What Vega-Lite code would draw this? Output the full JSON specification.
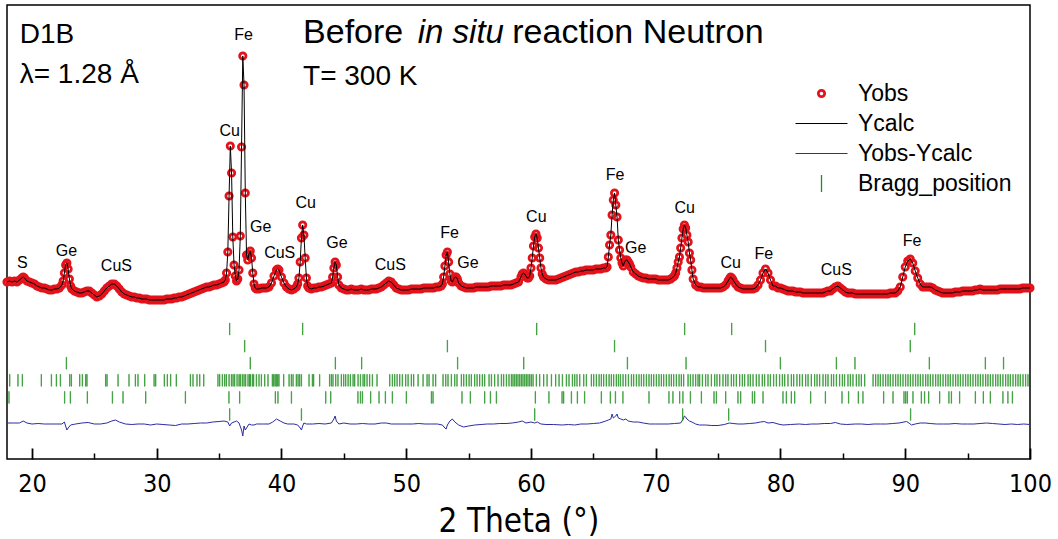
{
"$schema":"https://vega.github.io/schema/vega-lite/v6.json",
"width":1023,"height":454,"autosize":"none",
"padding":{"left":7,"top":5,"right":28,"bottom":80},
"config":{"view":{"stroke":"#000","strokeWidth":1.5},"font":"Liberation Sans"},
"datasets":{
"profile":[
{"t":18,"I":177},{"t":18.2,"I":178},{"t":18.4,"I":177},{"t":18.6,"I":178},{"t":18.8,"I":177},{"t":19,"I":179},{"t":19.2,"I":181},{"t":19.3,"I":182},{"t":19.4,"I":181},{"t":19.6,"I":178},{"t":19.8,"I":177},{"t":20,"I":176},{"t":20.2,"I":175},{"t":20.4,"I":173},{"t":20.6,"I":172},{"t":20.8,"I":171},{"t":21,"I":171},{"t":21.2,"I":170},{"t":21.4,"I":169},{"t":21.6,"I":169},{"t":21.8,"I":170},{"t":22,"I":170},{"t":22.2,"I":171},{"t":22.4,"I":174},{"t":22.5,"I":178},{"t":22.6,"I":186},{"t":22.7,"I":194},{"t":22.8,"I":196},{"t":22.9,"I":190},{"t":23,"I":180},{"t":23.1,"I":173},{"t":23.2,"I":170},{"t":23.4,"I":168},{"t":23.6,"I":167},{"t":23.8,"I":166},{"t":24,"I":166},{"t":24.2,"I":167},{"t":24.4,"I":168},{"t":24.6,"I":168},{"t":24.8,"I":166},{"t":25,"I":164},{"t":25.2,"I":162},{"t":25.4,"I":163},{"t":25.6,"I":165},{"t":25.8,"I":168},{"t":26,"I":171},{"t":26.2,"I":173},{"t":26.4,"I":175},{"t":26.6,"I":175},{"t":26.8,"I":173},{"t":27,"I":170},{"t":27.2,"I":167},{"t":27.4,"I":165},{"t":27.6,"I":164},{"t":27.8,"I":163},{"t":28,"I":162},{"t":28.2,"I":162},{"t":28.4,"I":161},{"t":28.6,"I":161},{"t":28.8,"I":160},{"t":29,"I":160},{"t":29.2,"I":160},{"t":29.4,"I":159},{"t":29.6,"I":159},{"t":29.8,"I":159},{"t":30,"I":159},{"t":30.2,"I":159},{"t":30.4,"I":159},{"t":30.6,"I":159},{"t":30.8,"I":160},{"t":31,"I":160},{"t":31.2,"I":160},{"t":31.4,"I":161},{"t":31.6,"I":161},{"t":31.8,"I":162},{"t":32,"I":162},{"t":32.2,"I":163},{"t":32.4,"I":164},{"t":32.6,"I":165},{"t":32.8,"I":166},{"t":33,"I":167},{"t":33.2,"I":168},{"t":33.4,"I":169},{"t":33.6,"I":170},{"t":33.8,"I":171},{"t":34,"I":172},{"t":34.2,"I":172},{"t":34.4,"I":173},{"t":34.6,"I":174},{"t":34.8,"I":174},{"t":35,"I":175},{"t":35.2,"I":176},{"t":35.4,"I":177},{"t":35.5,"I":179},{"t":35.6,"I":186},{"t":35.7,"I":207},{"t":35.8,"I":263},{"t":35.9,"I":313},{"t":36,"I":286},{"t":36.1,"I":222},{"t":36.2,"I":194},{"t":36.3,"I":183},{"t":36.4,"I":178},{"t":36.5,"I":180},{"t":36.6,"I":189},{"t":36.7,"I":223},{"t":36.8,"I":312},{"t":36.9,"I":403},{"t":37,"I":374},{"t":37.1,"I":266},{"t":37.2,"I":204},{"t":37.3,"I":199},{"t":37.4,"I":205},{"t":37.5,"I":208},{"t":37.6,"I":201},{"t":37.7,"I":186},{"t":37.8,"I":175},{"t":37.9,"I":171},{"t":38,"I":170},{"t":38.2,"I":170},{"t":38.4,"I":171},{"t":38.6,"I":171},{"t":38.8,"I":171},{"t":39,"I":172},{"t":39.2,"I":176},{"t":39.4,"I":183},{"t":39.6,"I":189},{"t":39.7,"I":190},{"t":39.8,"I":189},{"t":40,"I":182},{"t":40.2,"I":176},{"t":40.4,"I":172},{"t":40.6,"I":170},{"t":40.8,"I":169},{"t":41,"I":170},{"t":41.2,"I":172},{"t":41.3,"I":175},{"t":41.4,"I":181},{"t":41.5,"I":197},{"t":41.6,"I":221},{"t":41.7,"I":234},{"t":41.8,"I":224},{"t":41.9,"I":201},{"t":42,"I":181},{"t":42.1,"I":173},{"t":42.2,"I":171},{"t":42.4,"I":170},{"t":42.6,"I":171},{"t":42.8,"I":171},{"t":43,"I":172},{"t":43.2,"I":172},{"t":43.4,"I":173},{"t":43.6,"I":174},{"t":43.8,"I":175},{"t":44,"I":176},{"t":44.1,"I":182},{"t":44.2,"I":191},{"t":44.3,"I":197},{"t":44.4,"I":194},{"t":44.5,"I":182},{"t":44.6,"I":174},{"t":44.8,"I":171},{"t":45,"I":170},{"t":45.2,"I":169},{"t":45.4,"I":169},{"t":45.6,"I":170},{"t":45.8,"I":169},{"t":46,"I":169},{"t":46.2,"I":169},{"t":46.4,"I":170},{"t":46.6,"I":169},{"t":46.8,"I":169},{"t":47,"I":169},{"t":47.2,"I":170},{"t":47.4,"I":170},{"t":47.6,"I":170},{"t":47.8,"I":171},{"t":48,"I":172},{"t":48.2,"I":174},{"t":48.4,"I":176},{"t":48.6,"I":178},{"t":48.8,"I":177},{"t":49,"I":174},{"t":49.2,"I":171},{"t":49.4,"I":170},{"t":49.6,"I":169},{"t":49.8,"I":169},{"t":50,"I":169},{"t":50.2,"I":169},{"t":50.4,"I":170},{"t":50.6,"I":170},{"t":50.8,"I":170},{"t":51,"I":170},{"t":51.2,"I":170},{"t":51.4,"I":171},{"t":51.6,"I":171},{"t":51.8,"I":171},{"t":52,"I":171},{"t":52.2,"I":171},{"t":52.4,"I":172},{"t":52.6,"I":172},{"t":52.8,"I":173},{"t":52.9,"I":175},{"t":53,"I":182},{"t":53.1,"I":193},{"t":53.2,"I":204},{"t":53.3,"I":207},{"t":53.4,"I":197},{"t":53.5,"I":185},{"t":53.6,"I":178},{"t":53.7,"I":177},{"t":53.8,"I":180},{"t":53.9,"I":182},{"t":54,"I":182},{"t":54.1,"I":180},{"t":54.2,"I":176},{"t":54.4,"I":173},{"t":54.6,"I":172},{"t":54.8,"I":171},{"t":55,"I":171},{"t":55.2,"I":171},{"t":55.4,"I":171},{"t":55.6,"I":172},{"t":55.8,"I":172},{"t":56,"I":172},{"t":56.2,"I":172},{"t":56.4,"I":172},{"t":56.6,"I":172},{"t":56.8,"I":173},{"t":57,"I":173},{"t":57.2,"I":173},{"t":57.4,"I":173},{"t":57.6,"I":173},{"t":57.8,"I":174},{"t":58,"I":174},{"t":58.2,"I":174},{"t":58.4,"I":174},{"t":58.6,"I":175},{"t":58.8,"I":176},{"t":59,"I":177},{"t":59.2,"I":182},{"t":59.3,"I":185},{"t":59.4,"I":186},{"t":59.5,"I":185},{"t":59.6,"I":183},{"t":59.7,"I":181},{"t":59.8,"I":181},{"t":59.9,"I":183},{"t":60,"I":191},{"t":60.1,"I":201},{"t":60.2,"I":213},{"t":60.3,"I":222},{"t":60.4,"I":225},{"t":60.5,"I":221},{"t":60.6,"I":211},{"t":60.7,"I":201},{"t":60.8,"I":191},{"t":60.9,"I":185},{"t":61,"I":182},{"t":61.2,"I":180},{"t":61.4,"I":179},{"t":61.6,"I":179},{"t":61.8,"I":179},{"t":62,"I":179},{"t":62.2,"I":180},{"t":62.4,"I":181},{"t":62.6,"I":182},{"t":62.8,"I":183},{"t":63,"I":184},{"t":63.2,"I":185},{"t":63.4,"I":186},{"t":63.6,"I":187},{"t":63.8,"I":187},{"t":64,"I":188},{"t":64.2,"I":188},{"t":64.4,"I":189},{"t":64.6,"I":189},{"t":64.8,"I":189},{"t":65,"I":189},{"t":65.2,"I":190},{"t":65.4,"I":190},{"t":65.6,"I":190},{"t":65.8,"I":191},{"t":66,"I":191},{"t":66.1,"I":192},{"t":66.2,"I":202},{"t":66.3,"I":214},{"t":66.4,"I":224},{"t":66.5,"I":244},{"t":66.6,"I":259},{"t":66.7,"I":266},{"t":66.8,"I":254},{"t":66.9,"I":242},{"t":67,"I":219},{"t":67.1,"I":209},{"t":67.2,"I":201},{"t":67.3,"I":196},{"t":67.4,"I":193},{"t":67.5,"I":197},{"t":67.6,"I":199},{"t":67.7,"I":199},{"t":67.8,"I":197},{"t":67.9,"I":195},{"t":68,"I":192},{"t":68.2,"I":187},{"t":68.4,"I":185},{"t":68.6,"I":183},{"t":68.8,"I":182},{"t":69,"I":181},{"t":69.2,"I":181},{"t":69.4,"I":180},{"t":69.6,"I":180},{"t":69.8,"I":180},{"t":70,"I":180},{"t":70.2,"I":179},{"t":70.4,"I":179},{"t":70.6,"I":179},{"t":70.8,"I":179},{"t":71,"I":179},{"t":71.2,"I":180},{"t":71.4,"I":182},{"t":71.5,"I":183},{"t":71.6,"I":186},{"t":71.7,"I":191},{"t":71.8,"I":197},{"t":71.9,"I":202},{"t":72,"I":211},{"t":72.1,"I":221},{"t":72.2,"I":230},{"t":72.3,"I":234},{"t":72.4,"I":231},{"t":72.5,"I":224},{"t":72.6,"I":217},{"t":72.7,"I":206},{"t":72.8,"I":199},{"t":72.9,"I":189},{"t":73,"I":180},{"t":73.2,"I":174},{"t":73.4,"I":172},{"t":73.6,"I":172},{"t":73.8,"I":171},{"t":74,"I":171},{"t":74.2,"I":171},{"t":74.4,"I":171},{"t":74.6,"I":171},{"t":74.8,"I":171},{"t":75,"I":171},{"t":75.2,"I":171},{"t":75.4,"I":172},{"t":75.6,"I":174},{"t":75.8,"I":178},{"t":75.9,"I":180},{"t":76,"I":182},{"t":76.1,"I":181},{"t":76.2,"I":179},{"t":76.4,"I":175},{"t":76.6,"I":172},{"t":76.8,"I":171},{"t":77,"I":170},{"t":77.2,"I":170},{"t":77.4,"I":170},{"t":77.6,"I":170},{"t":77.8,"I":170},{"t":78,"I":171},{"t":78.2,"I":174},{"t":78.4,"I":179},{"t":78.6,"I":186},{"t":78.8,"I":190},{"t":79,"I":186},{"t":79.2,"I":179},{"t":79.4,"I":173},{"t":79.6,"I":173},{"t":79.8,"I":171},{"t":80,"I":171},{"t":80.2,"I":170},{"t":80.4,"I":169},{"t":80.6,"I":168},{"t":80.8,"I":168},{"t":81,"I":168},{"t":81.2,"I":167},{"t":81.4,"I":167},{"t":81.6,"I":167},{"t":81.8,"I":166},{"t":82,"I":166},{"t":82.2,"I":166},{"t":82.4,"I":166},{"t":82.6,"I":166},{"t":82.8,"I":166},{"t":83,"I":166},{"t":83.2,"I":166},{"t":83.4,"I":166},{"t":83.6,"I":167},{"t":83.8,"I":168},{"t":84,"I":168},{"t":84.2,"I":170},{"t":84.4,"I":172},{"t":84.6,"I":173},{"t":84.8,"I":171},{"t":85,"I":169},{"t":85.2,"I":167},{"t":85.4,"I":166},{"t":85.6,"I":166},{"t":85.8,"I":166},{"t":86,"I":165},{"t":86.2,"I":165},{"t":86.4,"I":165},{"t":86.6,"I":165},{"t":86.8,"I":165},{"t":87,"I":165},{"t":87.2,"I":165},{"t":87.4,"I":165},{"t":87.6,"I":165},{"t":87.8,"I":165},{"t":88,"I":165},{"t":88.2,"I":165},{"t":88.4,"I":165},{"t":88.6,"I":165},{"t":88.8,"I":166},{"t":89,"I":166},{"t":89.2,"I":166},{"t":89.4,"I":168},{"t":89.6,"I":172},{"t":89.8,"I":182},{"t":90,"I":192},{"t":90.2,"I":198},{"t":90.4,"I":200},{"t":90.6,"I":196},{"t":90.8,"I":188},{"t":91,"I":181},{"t":91.2,"I":175},{"t":91.4,"I":172},{"t":91.6,"I":172},{"t":91.8,"I":172},{"t":92,"I":172},{"t":92.2,"I":171},{"t":92.4,"I":169},{"t":92.6,"I":168},{"t":92.8,"I":167},{"t":93,"I":166},{"t":93.2,"I":166},{"t":93.4,"I":166},{"t":93.6,"I":166},{"t":93.8,"I":166},{"t":94,"I":167},{"t":94.2,"I":167},{"t":94.4,"I":167},{"t":94.6,"I":168},{"t":94.8,"I":168},{"t":95,"I":168},{"t":95.2,"I":168},{"t":95.4,"I":168},{"t":95.6,"I":169},{"t":95.8,"I":169},{"t":96,"I":170},{"t":96.2,"I":169},{"t":96.4,"I":169},{"t":96.6,"I":169},{"t":96.8,"I":169},{"t":97,"I":169},{"t":97.2,"I":169},{"t":97.4,"I":169},{"t":97.6,"I":170},{"t":97.8,"I":170},{"t":98,"I":170},{"t":98.2,"I":170},{"t":98.4,"I":170},{"t":98.6,"I":170},{"t":98.8,"I":170},{"t":99,"I":170},{"t":99.2,"I":170},{"t":99.4,"I":171},{"t":99.6,"I":171},{"t":99.8,"I":171},{"t":100,"I":171}
],
"diff":[
{"t":18,"d":36},{"t":18.5,"d":36},{"t":19,"d":36},{"t":19.3,"d":38},{"t":19.6,"d":36},{"t":20,"d":35},{"t":20.5,"d":35.5},{"t":21,"d":35},{"t":21.5,"d":35},{"t":22,"d":35},{"t":22.4,"d":35},{"t":22.6,"d":37},{"t":22.7,"d":33},{"t":22.8,"d":29},{"t":22.9,"d":31},{"t":23.1,"d":34},{"t":23.5,"d":35},{"t":24,"d":36},{"t":24.5,"d":36.5},{"t":25,"d":35},{"t":25.5,"d":35},{"t":26,"d":36},{"t":26.4,"d":38},{"t":26.7,"d":39},{"t":27,"d":37},{"t":27.5,"d":35},{"t":28,"d":34.5},{"t":28.5,"d":35},{"t":29,"d":35},{"t":29.5,"d":34},{"t":30,"d":35},{"t":30.5,"d":34.5},{"t":31,"d":34},{"t":31.5,"d":33.5},{"t":32,"d":35},{"t":32.5,"d":35},{"t":33,"d":35.5},{"t":33.5,"d":36},{"t":34,"d":36},{"t":34.5,"d":37},{"t":35,"d":37.5},{"t":35.4,"d":38},{"t":35.7,"d":37},{"t":35.85,"d":33},{"t":36,"d":36},{"t":36.2,"d":37},{"t":36.4,"d":38},{"t":36.6,"d":36},{"t":36.8,"d":29},{"t":36.9,"d":23},{"t":37,"d":33},{"t":37.1,"d":29},{"t":37.2,"d":31},{"t":37.4,"d":35},{"t":37.6,"d":34},{"t":37.8,"d":34},{"t":38,"d":35},{"t":38.5,"d":35},{"t":39,"d":35},{"t":39.3,"d":37},{"t":39.6,"d":40},{"t":39.9,"d":38},{"t":40.2,"d":36},{"t":40.5,"d":35},{"t":41,"d":35},{"t":41.3,"d":34},{"t":41.5,"d":31},{"t":41.6,"d":29},{"t":41.7,"d":33},{"t":41.8,"d":36},{"t":42,"d":35},{"t":42.5,"d":35},{"t":43,"d":35.5},{"t":43.5,"d":35},{"t":44,"d":36},{"t":44.2,"d":40},{"t":44.3,"d":43},{"t":44.4,"d":38},{"t":44.6,"d":35},{"t":45,"d":36},{"t":45.5,"d":35},{"t":46,"d":35},{"t":46.5,"d":35.5},{"t":47,"d":35},{"t":47.5,"d":35},{"t":48,"d":36},{"t":48.4,"d":36},{"t":48.8,"d":35},{"t":49.2,"d":35},{"t":49.6,"d":35},{"t":50,"d":35},{"t":50.5,"d":35},{"t":51,"d":35.5},{"t":51.5,"d":35},{"t":52,"d":35},{"t":52.5,"d":35},{"t":52.9,"d":34},{"t":53.1,"d":31},{"t":53.2,"d":30},{"t":53.3,"d":34},{"t":53.5,"d":38},{"t":53.7,"d":40},{"t":53.9,"d":37},{"t":54.2,"d":34},{"t":54.6,"d":32},{"t":55,"d":33},{"t":55.5,"d":34},{"t":56,"d":34.5},{"t":56.5,"d":35},{"t":57,"d":35},{"t":57.5,"d":35.5},{"t":58,"d":35.5},{"t":58.5,"d":36},{"t":59,"d":37},{"t":59.3,"d":38},{"t":59.6,"d":36},{"t":60,"d":37},{"t":60.3,"d":36},{"t":60.5,"d":37},{"t":60.8,"d":35},{"t":61.2,"d":34.5},{"t":61.8,"d":34.5},{"t":62.5,"d":34},{"t":63,"d":34.5},{"t":63.5,"d":34},{"t":64,"d":35},{"t":64.5,"d":35},{"t":65,"d":35.5},{"t":65.5,"d":36},{"t":66,"d":38},{"t":66.2,"d":39},{"t":66.4,"d":40},{"t":66.5,"d":45},{"t":66.6,"d":41},{"t":66.7,"d":42},{"t":66.8,"d":43},{"t":66.9,"d":45},{"t":67,"d":41},{"t":67.2,"d":40},{"t":67.4,"d":39},{"t":67.6,"d":40},{"t":67.8,"d":38},{"t":68.2,"d":37},{"t":68.6,"d":37},{"t":69,"d":36},{"t":69.5,"d":35},{"t":70,"d":35},{"t":70.5,"d":35},{"t":71,"d":35},{"t":71.5,"d":35.5},{"t":72,"d":36},{"t":72.2,"d":40},{"t":72.3,"d":43},{"t":72.4,"d":42},{"t":72.5,"d":40},{"t":72.7,"d":38},{"t":72.9,"d":37},{"t":73.2,"d":35},{"t":73.5,"d":34},{"t":74,"d":34},{"t":74.5,"d":33.5},{"t":75,"d":33.5},{"t":75.5,"d":34.5},{"t":75.9,"d":36},{"t":76.2,"d":35.5},{"t":76.6,"d":35},{"t":77,"d":35},{"t":77.5,"d":35.5},{"t":78,"d":36},{"t":78.4,"d":37},{"t":78.7,"d":37.5},{"t":79,"d":36},{"t":79.4,"d":36.5},{"t":79.8,"d":35},{"t":80.2,"d":34},{"t":80.8,"d":34.5},{"t":81.5,"d":35},{"t":82,"d":34.5},{"t":82.5,"d":35},{"t":83,"d":35},{"t":83.5,"d":35.5},{"t":84,"d":35.5},{"t":84.4,"d":36.5},{"t":84.8,"d":35},{"t":85.3,"d":34.5},{"t":86,"d":35},{"t":86.5,"d":35},{"t":87,"d":34.5},{"t":87.5,"d":35},{"t":88,"d":35},{"t":88.5,"d":35},{"t":89,"d":35.5},{"t":89.5,"d":36},{"t":89.9,"d":37},{"t":90.1,"d":37.5},{"t":90.3,"d":36},{"t":90.5,"d":34},{"t":90.8,"d":35},{"t":91.2,"d":36},{"t":91.6,"d":36},{"t":92,"d":35.5},{"t":92.5,"d":35},{"t":93,"d":35},{"t":93.5,"d":35},{"t":94,"d":35.5},{"t":94.5,"d":35},{"t":95,"d":35},{"t":95.5,"d":35},{"t":96,"d":35.5},{"t":96.5,"d":36},{"t":97,"d":35.5},{"t":97.5,"d":35},{"t":98,"d":34.5},{"t":98.5,"d":35},{"t":99,"d":34.5},{"t":99.5,"d":35},{"t":100,"d":34.5}
],
"bragg":[
{"t":35.85,"p":"Cu"},{"t":41.7,"p":"Cu"},{"t":60.46,"p":"Cu"},{"t":72.32,"p":"Cu"},{"t":76.09,"p":"Cu"},{"t":90.76,"p":"Cu"},
{"t":37.05,"p":"Fe"},{"t":53.3,"p":"Fe"},{"t":66.7,"p":"Fe"},{"t":78.8,"p":"Fe"},{"t":90.4,"p":"Fe"},
{"t":22.76,"p":"Ge"},{"t":37.5,"p":"Ge"},{"t":44.32,"p":"Ge"},{"t":46.43,"p":"Ge"},{"t":54.12,"p":"Ge"},{"t":59.42,"p":"Ge"},{"t":67.73,"p":"Ge"},{"t":72.43,"p":"Ge"},{"t":79.99,"p":"Ge"},{"t":84.48,"p":"Ge"},{"t":85.97,"p":"Ge"},{"t":91.93,"p":"Ge"},{"t":96.42,"p":"Ge"},{"t":97.88,"p":"Ge"},
{"t":18.22,"p":"S"},{"t":18.88,"p":"S"},{"t":19.23,"p":"S"},{"t":20.75,"p":"S"},{"t":21.56,"p":"S"},{"t":21.96,"p":"S"},{"t":22.28,"p":"S"},{"t":23.03,"p":"S"},{"t":23.16,"p":"S"},{"t":23.83,"p":"S"},{"t":24.04,"p":"S"},{"t":24.31,"p":"S"},{"t":24.41,"p":"S"},{"t":25.91,"p":"S"},{"t":26.02,"p":"S"},{"t":26.9,"p":"S"},{"t":27.78,"p":"S"},{"t":28.29,"p":"S"},{"t":28.5,"p":"S"},{"t":29.04,"p":"S"},{"t":29.79,"p":"S"},{"t":29.92,"p":"S"},{"t":30.61,"p":"S"},{"t":30.85,"p":"S"},{"t":31.12,"p":"S"},{"t":31.57,"p":"S"},{"t":32.7,"p":"S"},{"t":32.91,"p":"S"},{"t":33.23,"p":"S"},{"t":33.45,"p":"S"},{"t":33.77,"p":"S"},{"t":34.91,"p":"S"},{"t":35.05,"p":"S"},{"t":35.26,"p":"S"},{"t":35.45,"p":"S"},{"t":35.58,"p":"S"},{"t":35.8,"p":"S"},{"t":35.99,"p":"S"},{"t":36.12,"p":"S"},{"t":36.25,"p":"S"},{"t":36.44,"p":"S"},{"t":36.6,"p":"S"},{"t":36.7,"p":"S"},{"t":36.86,"p":"S"},{"t":37,"p":"S"},{"t":37.13,"p":"S"},{"t":37.32,"p":"S"},{"t":37.45,"p":"S"},{"t":37.51,"p":"S"},{"t":37.67,"p":"S"},{"t":37.77,"p":"S"},{"t":37.99,"p":"S"},{"t":38.2,"p":"S"},{"t":38.39,"p":"S"},{"t":38.66,"p":"S"},{"t":38.92,"p":"S"},{"t":39.27,"p":"S"},{"t":39.38,"p":"S"},{"t":39.49,"p":"S"},{"t":39.59,"p":"S"},{"t":39.7,"p":"S"},{"t":39.8,"p":"S"},{"t":40.18,"p":"S"},{"t":40.61,"p":"S"},{"t":40.79,"p":"S"},{"t":40.93,"p":"S"},{"t":41.19,"p":"S"},{"t":41.33,"p":"S"},{"t":41.46,"p":"S"},{"t":41.6,"p":"S"},{"t":42.21,"p":"S"},{"t":42.48,"p":"S"},{"t":42.58,"p":"S"},{"t":43.06,"p":"S"},{"t":43.86,"p":"S"},{"t":44,"p":"S"},{"t":44.13,"p":"S"},{"t":44.35,"p":"S"},{"t":44.53,"p":"S"},
{"t":44.8,"p":"S"},{"t":44.99,"p":"S"},{"t":45.15,"p":"S"},{"t":45.34,"p":"S"},{"t":45.52,"p":"S"},{"t":45.74,"p":"S"},{"t":45.87,"p":"S"},{"t":46.14,"p":"S"},{"t":46.33,"p":"S"},{"t":46.54,"p":"S"},{"t":46.67,"p":"S"},{"t":46.86,"p":"S"},{"t":47.07,"p":"S"},{"t":47.29,"p":"S"},{"t":47.66,"p":"S"},{"t":48.68,"p":"S"},{"t":48.89,"p":"S"},{"t":49.08,"p":"S"},{"t":49.27,"p":"S"},{"t":49.48,"p":"S"},{"t":49.69,"p":"S"},{"t":49.96,"p":"S"},{"t":50.15,"p":"S"},{"t":50.41,"p":"S"},{"t":50.6,"p":"S"},{"t":50.95,"p":"S"},{"t":51.35,"p":"S"},{"t":51.67,"p":"S"},{"t":51.83,"p":"S"},{"t":52.15,"p":"S"},{"t":52.36,"p":"S"},{"t":52.95,"p":"S"},{"t":53.17,"p":"S"},{"t":53.35,"p":"S"},{"t":53.62,"p":"S"},{"t":53.89,"p":"S"},{"t":54.07,"p":"S"},{"t":54.42,"p":"S"},{"t":54.61,"p":"S"},{"t":54.82,"p":"S"},{"t":55.04,"p":"S"},{"t":55.22,"p":"S"},{"t":55.49,"p":"S"},{"t":55.68,"p":"S"},{"t":55.89,"p":"S"},{"t":56.1,"p":"S"},{"t":56.29,"p":"S"},{"t":56.64,"p":"S"},{"t":56.83,"p":"S"},{"t":57.09,"p":"S"},{"t":57.36,"p":"S"},{"t":57.63,"p":"S"},{"t":57.81,"p":"S"},{"t":58.03,"p":"S"},{"t":58.24,"p":"S"},{"t":58.43,"p":"S"},{"t":58.56,"p":"S"},{"t":58.7,"p":"S"},{"t":58.83,"p":"S"},{"t":58.96,"p":"S"},{"t":59.1,"p":"S"},{"t":59.23,"p":"S"},{"t":59.36,"p":"S"},{"t":59.5,"p":"S"},{"t":59.63,"p":"S"},{"t":59.76,"p":"S"},{"t":59.9,"p":"S"},{"t":60.03,"p":"S"},{"t":60.17,"p":"S"},{"t":60.43,"p":"S"},{"t":60.7,"p":"S"},{"t":61.02,"p":"S"},{"t":61.29,"p":"S"},{"t":61.64,"p":"S"},{"t":61.98,"p":"S"},{"t":62.25,"p":"S"},{"t":62.52,"p":"S"},{"t":62.84,"p":"S"},{"t":63.05,"p":"S"},{"t":63.32,"p":"S"},{"t":63.51,"p":"S"},{"t":63.69,"p":"S"},{"t":63.91,"p":"S"},{"t":64.23,"p":"S"},{"t":64.44,"p":"S"},{"t":64.84,"p":"S"},{"t":65.03,"p":"S"},{"t":65.24,"p":"S"},{"t":65.46,"p":"S"},{"t":65.64,"p":"S"},{"t":65.83,"p":"S"},{"t":66.04,"p":"S"},{"t":66.26,"p":"S"},{"t":66.44,"p":"S"},{"t":66.63,"p":"S"},{"t":66.84,"p":"S"},{"t":67.01,"p":"S"},{"t":67.17,"p":"S"},{"t":67.38,"p":"S"},{"t":67.59,"p":"S"},{"t":67.81,"p":"S"},{"t":68.05,"p":"S"},{"t":68.23,"p":"S"},{"t":68.45,"p":"S"},{"t":68.66,"p":"S"},{"t":68.85,"p":"S"},{"t":69.04,"p":"S"},{"t":69.25,"p":"S"},{"t":69.46,"p":"S"},{"t":69.65,"p":"S"},{"t":69.84,"p":"S"},{"t":70.05,"p":"S"},{"t":70.26,"p":"S"},{"t":70.45,"p":"S"},{"t":70.64,"p":"S"},{"t":70.85,"p":"S"},{"t":71.07,"p":"S"},{"t":71.25,"p":"S"},{"t":71.44,"p":"S"},{"t":71.65,"p":"S"},{"t":71.87,"p":"S"},{"t":72.05,"p":"S"},{"t":72.24,"p":"S"},{"t":72.59,"p":"S"},{"t":72.78,"p":"S"},{"t":72.99,"p":"S"},{"t":73.2,"p":"S"},{"t":73.39,"p":"S"},
{"t":73.52,"p":"S"},{"t":73.74,"p":"S"},{"t":74,"p":"S"},{"t":74.19,"p":"S"},{"t":74.46,"p":"S"},{"t":74.73,"p":"S"},{"t":74.91,"p":"S"},{"t":75.13,"p":"S"},{"t":75.39,"p":"S"},{"t":75.61,"p":"S"},{"t":75.79,"p":"S"},{"t":76.06,"p":"S"},{"t":76.25,"p":"S"},{"t":76.46,"p":"S"},{"t":76.73,"p":"S"},{"t":76.94,"p":"S"},{"t":77.13,"p":"S"},{"t":77.4,"p":"S"},{"t":77.58,"p":"S"},{"t":77.8,"p":"S"},{"t":78.06,"p":"S"},{"t":78.28,"p":"S"},{"t":78.54,"p":"S"},{"t":78.73,"p":"S"},{"t":79,"p":"S"},{"t":79.19,"p":"S"},{"t":79.45,"p":"S"},{"t":79.67,"p":"S"},{"t":79.93,"p":"S"},{"t":80.15,"p":"S"},{"t":80.34,"p":"S"},{"t":80.6,"p":"S"},{"t":80.87,"p":"S"},{"t":81.06,"p":"S"},{"t":81.32,"p":"S"},{"t":81.54,"p":"S"},{"t":81.75,"p":"S"},{"t":82.02,"p":"S"},{"t":82.21,"p":"S"},{"t":82.47,"p":"S"},{"t":82.74,"p":"S"},{"t":82.93,"p":"S"},{"t":83.14,"p":"S"},{"t":83.41,"p":"S"},{"t":83.62,"p":"S"},{"t":83.81,"p":"S"},{"t":84.08,"p":"S"},{"t":84.26,"p":"S"},{"t":84.48,"p":"S"},{"t":84.74,"p":"S"},{"t":84.96,"p":"S"},{"t":85.14,"p":"S"},{"t":85.41,"p":"S"},{"t":85.6,"p":"S"},{"t":85.81,"p":"S"},{"t":86.08,"p":"S"},{"t":86.29,"p":"S"},{"t":86.48,"p":"S"},{"t":86.75,"p":"S"},{"t":87.42,"p":"S"},{"t":87.63,"p":"S"},{"t":87.82,"p":"S"},{"t":88,"p":"S"},{"t":88.22,"p":"S"},{"t":88.43,"p":"S"},{"t":88.62,"p":"S"},{"t":88.8,"p":"S"},{"t":89.02,"p":"S"},{"t":89.23,"p":"S"},{"t":89.42,"p":"S"},{"t":89.61,"p":"S"},{"t":89.82,"p":"S"},{"t":90.03,"p":"S"},{"t":90.22,"p":"S"},{"t":90.41,"p":"S"},{"t":90.62,"p":"S"},{"t":90.83,"p":"S"},{"t":91.02,"p":"S"},{"t":91.21,"p":"S"},{"t":91.42,"p":"S"},{"t":91.64,"p":"S"},{"t":91.82,"p":"S"},{"t":92.01,"p":"S"},{"t":92.22,"p":"S"},{"t":92.44,"p":"S"},{"t":92.63,"p":"S"},{"t":92.81,"p":"S"},{"t":93.03,"p":"S"},{"t":93.24,"p":"S"},{"t":93.43,"p":"S"},{"t":93.61,"p":"S"},{"t":93.83,"p":"S"},{"t":94.04,"p":"S"},{"t":94.23,"p":"S"},{"t":94.42,"p":"S"},{"t":94.63,"p":"S"},{"t":94.84,"p":"S"},{"t":95.03,"p":"S"},{"t":95.22,"p":"S"},{"t":95.43,"p":"S"},{"t":95.64,"p":"S"},{"t":95.83,"p":"S"},{"t":96.02,"p":"S"},{"t":96.23,"p":"S"},{"t":96.45,"p":"S"},{"t":96.63,"p":"S"},{"t":96.82,"p":"S"},{"t":97.03,"p":"S"},{"t":97.25,"p":"S"},{"t":97.43,"p":"S"},{"t":97.62,"p":"S"},{"t":97.83,"p":"S"},{"t":98.05,"p":"S"},{"t":98.24,"p":"S"},{"t":98.42,"p":"S"},{"t":98.64,"p":"S"},{"t":98.85,"p":"S"},{"t":99.04,"p":"S"},{"t":99.22,"p":"S"},{"t":99.44,"p":"S"},{"t":99.65,"p":"S"},{"t":99.84,"p":"S"},
{"t":18.16,"p":"CuS"},{"t":22.62,"p":"CuS"},{"t":23.08,"p":"CuS"},{"t":24.44,"p":"CuS"},{"t":26.45,"p":"CuS"},{"t":27.3,"p":"CuS"},{"t":29.12,"p":"CuS"},{"t":32.3,"p":"CuS"},{"t":35.79,"p":"CuS"},{"t":36.65,"p":"CuS"},{"t":39.51,"p":"CuS"},{"t":39.72,"p":"CuS"},{"t":40.8,"p":"CuS"},{"t":43.55,"p":"CuS"},{"t":43.95,"p":"CuS"},{"t":46.13,"p":"CuS"},{"t":46.33,"p":"CuS"},{"t":46.49,"p":"CuS"},{"t":47.15,"p":"CuS"},{"t":47.82,"p":"CuS"},{"t":48.33,"p":"CuS"},{"t":48.89,"p":"CuS"},{"t":50.01,"p":"CuS"},{"t":52.02,"p":"CuS"},{"t":52.15,"p":"CuS"},{"t":54.47,"p":"CuS"},{"t":55.14,"p":"CuS"},{"t":56.29,"p":"CuS"},{"t":56.75,"p":"CuS"},{"t":57.23,"p":"CuS"},{"t":60.35,"p":"CuS"},{"t":61.44,"p":"CuS"},{"t":62.49,"p":"CuS"},{"t":62.62,"p":"CuS"},{"t":63.24,"p":"CuS"},{"t":63.72,"p":"CuS"},{"t":64.3,"p":"CuS"},{"t":65.64,"p":"CuS"},{"t":66.36,"p":"CuS"},{"t":66.77,"p":"CuS"},{"t":67.37,"p":"CuS"},{"t":69.46,"p":"CuS"},{"t":71.06,"p":"CuS"},{"t":71.38,"p":"CuS"},{"t":71.92,"p":"CuS"},{"t":72.18,"p":"CuS"},{"t":72.78,"p":"CuS"},{"t":73.66,"p":"CuS"},{"t":74.67,"p":"CuS"},{"t":74.86,"p":"CuS"},{"t":75.61,"p":"CuS"},{"t":76.59,"p":"CuS"},{"t":76.81,"p":"CuS"},{"t":77.75,"p":"CuS"},{"t":77.93,"p":"CuS"},{"t":78.6,"p":"CuS"},{"t":80.2,"p":"CuS"},{"t":80.47,"p":"CuS"},{"t":80.87,"p":"CuS"},{"t":81.14,"p":"CuS"},{"t":82.42,"p":"CuS"},{"t":83.6,"p":"CuS"},{"t":84.93,"p":"CuS"},{"t":85.46,"p":"CuS"},{"t":86.24,"p":"CuS"},{"t":86.61,"p":"CuS"},{"t":88.27,"p":"CuS"},{"t":89.02,"p":"CuS"},{"t":89.9,"p":"CuS"},{"t":90.04,"p":"CuS"},{"t":90.17,"p":"CuS"},{"t":90.62,"p":"CuS"},{"t":91.29,"p":"CuS"},{"t":91.55,"p":"CuS"},{"t":91.88,"p":"CuS"},{"t":92.76,"p":"CuS"},{"t":93.5,"p":"CuS"},{"t":93.7,"p":"CuS"},{"t":94.36,"p":"CuS"},{"t":95.62,"p":"CuS"},{"t":96.26,"p":"CuS"},{"t":96.82,"p":"CuS"},{"t":97.83,"p":"CuS"},{"t":98.23,"p":"CuS"},{"t":98.59,"p":"CuS"},
{"t":35.85,"p":"Cu-2"},{"t":41.6,"p":"Cu-2"},{"t":60.3,"p":"Cu-2"},{"t":72.16,"p":"Cu-2"},{"t":75.85,"p":"Cu-2"},{"t":90.43,"p":"Cu-2"}
],
"peaks":[
{"t":19.23,"I":195.7,"label":"S"},{"t":22.76,"I":208.3,"label":"Ge"},{"t":26.77,"I":193,"label":"CuS"},{"t":35.85,"I":328,"label":"Cu"},{"t":36.97,"I":424,"label":"Fe"},{"t":38.34,"I":231.7,"label":"Ge"},{"t":39.86,"I":205.7,"label":"CuS"},{"t":41.94,"I":255.7,"label":"Cu"},{"t":44.45,"I":215.7,"label":"Ge"},{"t":48.73,"I":194,"label":"CuS"},{"t":53.48,"I":226.3,"label":"Fe"},{"t":54.95,"I":196.3,"label":"Ge"},{"t":60.43,"I":241.7,"label":"Cu"},{"t":66.74,"I":284,"label":"Fe"},{"t":68.39,"I":210.7,"label":"Ge"},{"t":72.32,"I":251.3,"label":"Cu"},{"t":76.01,"I":196.3,"label":"Cu"},{"t":78.66,"I":204.7,"label":"Fe"},{"t":84.48,"I":189,"label":"CuS"},{"t":90.54,"I":218,"label":"Fe"}
],
"info":[
{"t":19.02,"I":415.7,"text":"D1B"},{"t":19.02,"I":376.3,"text":"λ= 1.28 Å"},{"t":41.73,"I":374,"text":"T= 300 K"}
],
"title":[
{"t":41.73,"I":415.7,"text":"Before"},{"t":58.5,"I":415.7,"text":"reaction Neutron"}
],
"titleItalic":[
{"t":50.92,"I":415.7,"text":"in situ"}
]
},
"layer":[
{
"layer":[
{"data":{"name":"profile"},
 "mark":{"type":"point","filled":false,"opacity":1},
 "encoding":{
  "x":{"field":"t","type":"quantitative","scale":{"domain":[18,100],"nice":false,"zero":false},
   "axis":{"values":[20,30,40,50,60,70,80,90,100],"tickSize":-11,"tickWidth":1.8,"tickColor":"#000","domain":false,"grid":false,
    "labelFont":"Liberation Sans Narrow, Arial Narrow, DejaVu Sans Condensed, sans-serif","labelFontSize":25,"labelColor":"#000","labelPadding":23,"labelFlush":false,"labelOverlap":false,
    "title":"2 Theta (°)","titleFont":"Liberation Sans Narrow, Arial Narrow, DejaVu Sans Condensed, sans-serif","titleFontSize":33,"titleFontWeight":"normal","titleColor":"#000","titlePadding":9}},
  "y":{"field":"I","type":"quantitative","scale":{"domain":[0,454],"nice":false,"zero":false},"axis":null},
  "color":{"datum":"Yobs","type":"nominal",
   "scale":{"domain":["Yobs","Ycalc","Yobs-Ycalc","Bragg_position"],"range":["#e3121b","#000000","#2c2ca4","#1d8f1d"]},
   "legend":{"orient":"none","legendX":788,"legendY":77,"title":null,"padding":0,
    "labelFont":"Liberation Sans","labelFontSize":23,"labelColor":"#000","labelOffset":10,
    "clipHeight":23,"rowPadding":6}},
  "shape":{"datum":"Yobs","type":"nominal",
   "scale":{"domain":["Yobs","Ycalc","Yobs-Ycalc","Bragg_position"],"range":["circle","stroke","stroke","M0,-1L0,1"]},
   "legend":{"orient":"none","legendX":788,"legendY":77,"title":null,"padding":0,
    "labelFont":"Liberation Sans","labelFontSize":23,"labelColor":"#000","labelOffset":10,
    "clipHeight":23,"rowPadding":6}},
  "size":{"datum":"Yobs","type":"nominal",
   "scale":{"type":"ordinal","domain":["Yobs","Ycalc","Yobs-Ycalc","Bragg_position"],"range":[40,2704,2704,289]},
   "legend":{"orient":"none","legendX":788,"legendY":77,"title":null,"padding":0,
    "labelFont":"Liberation Sans","labelFontSize":23,"labelColor":"#000","labelOffset":10,
    "clipHeight":23,"rowPadding":6}},
  "strokeWidth":{"datum":"Yobs","type":"nominal",
   "scale":{"type":"ordinal","domain":["Yobs","Ycalc","Yobs-Ycalc","Bragg_position"],"range":[2.8,1,1,1.3]},
   "legend":{"orient":"none","legendX":788,"legendY":77,"title":null,"padding":0,
    "labelFont":"Liberation Sans","labelFontSize":23,"labelColor":"#000","labelOffset":10,
    "clipHeight":23,"rowPadding":6}}
 }},
{"data":{"name":"profile"},
 "mark":{"type":"line","strokeWidth":1},
 "encoding":{"x":{"field":"t","type":"quantitative"},"y":{"field":"I","type":"quantitative","axis":null},"color":{"datum":"Ycalc","type":"nominal"}}},
{"data":{"name":"diff"},
 "mark":{"type":"line","strokeWidth":1},
 "encoding":{"x":{"field":"t","type":"quantitative"},"y":{"field":"d","type":"quantitative","axis":null},"color":{"datum":"Yobs-Ycalc","type":"nominal"}}},
{"data":{"name":"peaks"},
 "mark":{"type":"text","fontSize":16,"font":"Liberation Sans","color":"#000","align":"center","baseline":"middle"},
 "encoding":{"x":{"field":"t","type":"quantitative"},"y":{"field":"I","type":"quantitative","axis":null},"text":{"field":"label"}}},
{"data":{"name":"info"},
 "mark":{"type":"text","fontSize":28,"font":"Liberation Sans","color":"#000","align":"left","baseline":"alphabetic"},
 "encoding":{"x":{"field":"t","type":"quantitative"},"y":{"field":"I","type":"quantitative","axis":null},"text":{"field":"text"}}},
{"data":{"name":"title"},
 "mark":{"type":"text","fontSize":34,"font":"Liberation Sans","color":"#000","align":"left","baseline":"alphabetic"},
 "encoding":{"x":{"field":"t","type":"quantitative"},"y":{"field":"I","type":"quantitative","axis":null},"text":{"field":"text"}}},
{"data":{"name":"titleItalic"},
 "mark":{"type":"text","fontSize":33,"font":"Liberation Sans","fontStyle":"italic","color":"#000","align":"left","baseline":"alphabetic"},
 "encoding":{"x":{"field":"t","type":"quantitative"},"y":{"field":"I","type":"quantitative","axis":null},"text":{"field":"text"}}}
]
},
{"data":{"name":"bragg"},
 "mark":{"type":"tick","orient":"vertical","thickness":0.4,"size":12,"filled":false,"strokeWidth":1},
 "encoding":{
  "x":{"field":"t","type":"quantitative","axis":{"orient":"bottom","values":[25,35,45,55,65,75,85,95],"tickSize":-6,"tickWidth":1.5,"tickColor":"#000","labels":false,"domain":false,"grid":false,"title":null}},
  "y":{"field":"p","type":"nominal","scale":{"type":"point","domain":["Cu","Fe","Ge","S","CuS","Cu-2"],"range":[324,409.5],"padding":0},"axis":null},
  "color":{"datum":"Bragg_position","type":"nominal"}}}
],
"resolve":{"scale":{"y":"independent"},"axis":{"x":"independent","y":"independent"}}
}
